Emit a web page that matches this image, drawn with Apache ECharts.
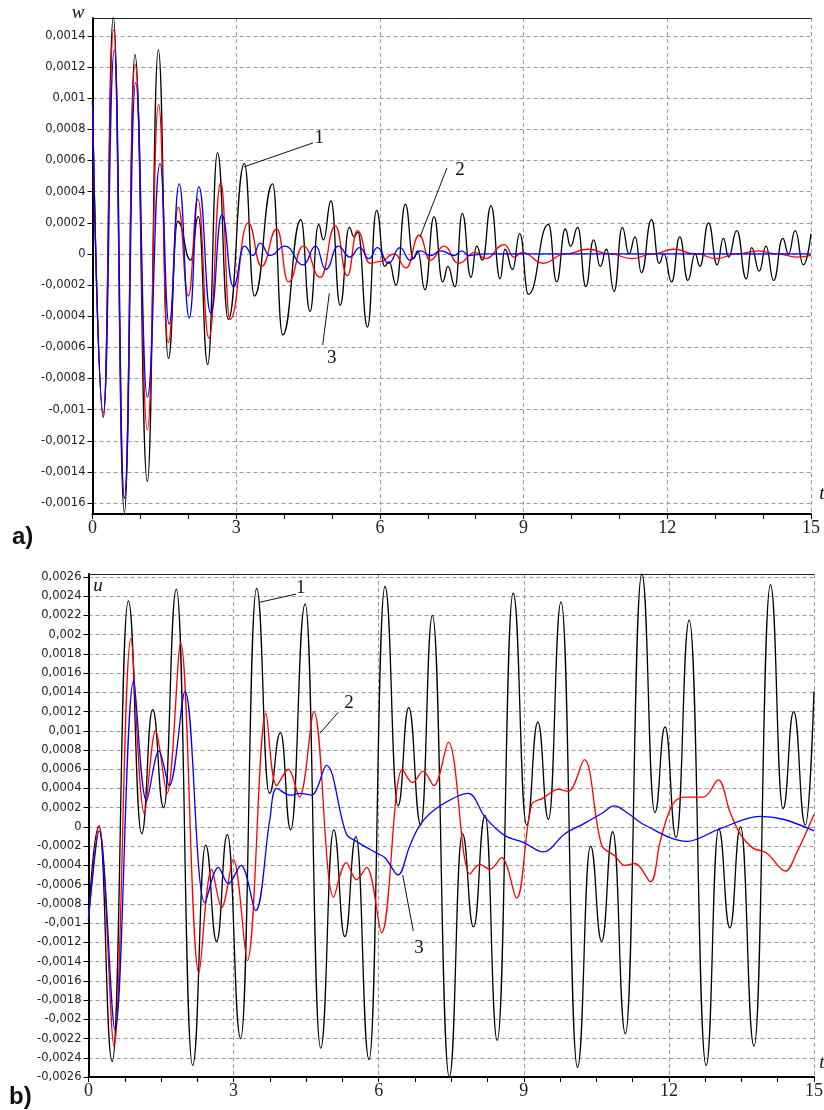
<!DOCTYPE html>
<html><head><meta charset="utf-8">
<script src="https://cdn.jsdelivr.net/npm/echarts@6/dist/echarts.min.js"></script>
<style>html,body{margin:0;padding:0;background:#fff}#c{width:824px;height:1110px}</style>
</head><body><div id="c"></div>
<script>
// ---------- tick labels ----------
const tTicks = [0, 3, 6, 9, 12, 15];
const wTicks = [-0.0016, -0.0014, -0.0012, -0.001, -0.0008, -0.0006, -0.0004, -0.0002, 0,
  0.0002, 0.0004, 0.0006, 0.0008, 0.001, 0.0012, 0.0014];
const uTicks = [-0.0026, -0.0024, -0.0022, -0.002, -0.0018, -0.0016, -0.0014, -0.0012, -0.001,
  -0.0008, -0.0006, -0.0004, -0.0002, 0, 0.0002, 0.0004, 0.0006, 0.0008, 0.001, 0.0012,
  0.0014, 0.0016, 0.0018, 0.002, 0.0022, 0.0024, 0.0026];

// ---------- panel a) : w(t) ----------
const w1 = [[0,0.00098],[0.226,-0.00105],[0.435,0.00152],[0.665,-0.00166],[0.887,0.00128],[1.145,-0.00146],
 [1.375,0.00131],[1.583,-0.00067],[1.78,0.00021],[2.05,-0.00004],[2.21,0.00024],[2.405,-0.00071],[2.61,0.00065],
 [2.835,-0.00042],[3.17,0.00058],[3.38,-0.00027],[3.76,0.00045],[3.97,-0.00052],[4.35,0.00022],[4.54,-0.00037],
 [4.72,0.00019],[4.82,0.00009],[4.98,0.00034],[5.17,-0.00033],[5.36,0.00017],[5.46,0.00011],[5.54,0.00014],
 [5.74,-0.00047],[5.93,0.00028],[6.1,-0.00008],[6.19,-0.00005],[6.34,-0.0002],[6.53,0.00032],[6.7,-0.00003],
 [6.79,0.00002],[6.94,-0.00023],[7.13,0.00024],[7.31,-0.00018],[7.42,-0.00008],[7.57,-0.00021],[7.72,0.00026],
 [7.9,-0.00015],[8.02,0.00005],[8.14,-0.00004],[8.32,0.00031],[8.51,-0.00016],[8.61,0.00003],[8.77,-0.0001],
 [8.92,0.00013],[9.1,-0.00026],[9.52,0.00019],[9.69,-0.00018],[9.87,0.00016],[9.98,0.00005],[10.13,0.00017],
 [10.3,-0.00021],[10.46,0.00009],[10.6,-0.00008],[10.73,0.00003],[10.89,-0.00024],[11.06,0.00017],[11.2,0],
 [11.33,0.00011],[11.46,-0.00012],[11.67,0.00022],[11.83,-0.00006],[11.93,0],[12.09,-0.00018],[12.26,0.00011],
 [12.43,-0.00017],[12.58,0],[12.68,-0.00008],[12.86,0.0002],[13.04,-0.00007],[13.17,0.0001],[13.28,-0.00002],
 [13.45,0.00015],[13.65,-0.00016],[13.76,0.00004],[13.92,-0.00011],[14.06,0.00005],[14.22,-0.00017],
 [14.41,0.0001],[14.53,0],[14.67,0.00015],[14.84,-0.00007],[15,0.00013]];
const w2 = [[0,0.00098],[0.226,-0.00104],[0.44,0.00144],[0.665,-0.00157],[0.89,0.00122],[1.145,-0.00113],
 [1.38,0.00096],[1.58,-0.00057],[1.79,0.0003],[2.0,-0.00027],[2.2,0.00035],[2.43,-0.00054],[2.68,0.00046],
 [2.87,-0.00042],[3.25,0.0002],[3.53,-0.00008],[3.85,0.00016],[4.09,-0.00018],[4.4,0.00005],[4.76,-0.00015],
 [5.07,0.00018],[5.32,-0.00014],[5.53,0.00015],[5.79,-0.00006],[6.0,-0.00005],[6.3,0],[6.55,-0.00009],
 [6.82,0.00012],[7.05,-0.00004],[7.34,0.00005],[7.64,-0.00006],[7.99,0.00001],[8.2,-0.00003],[8.6,0.00006],
 [8.8,-0.00002],[8.97,0.00001],[9.41,-0.00006],[9.87,0],[10.35,0.00003],[10.8,0],[11.26,-0.00003],[11.7,0],
 [12.13,0.00003],[12.6,0],[13.03,-0.00003],[13.45,0],[13.9,0.00002],[14.3,0],[14.7,-0.00002],[15,-0.00001]];
const w3 = [[0,0.00098],[0.226,-0.00102],[0.456,0.00131],[0.665,-0.00157],[0.9,0.0011],[1.145,-0.00092],
 [1.41,0.00058],[1.6,-0.00045],[1.81,0.00045],[2.02,-0.00041],[2.22,0.00043],[2.47,-0.00038],[2.7,0.00025],
 [2.94,-0.00021],[3.17,0.00005],[3.35,-0.00001],[3.5,0.00007],[3.7,-0.00001],[4.02,0.00005],[4.4,-0.00007],
 [4.66,0.00005],[4.87,-0.0001],[5.13,0.00005],[5.37,-0.00002],[5.58,0.00004],[5.77,-0.00003],[5.95,0.00004],
 [6.18,-0.00006],[6.42,0.00004],[6.63,-0.00004],[6.85,0.00002],[7.05,-0.00001],[7.27,0.00002],[7.55,-0.00001],
 [7.71,0.00002],[7.85,-0.00001],[8.2,0],[15,0]];

// ---------- panel b) : u(t) ----------
const u1 = [[0,-0.00096],[0.218,0.00001],[0.49,-0.00244],[0.823,0.00235],[1.1,-0.00007],[1.326,0.00122],
 [1.554,0.0002],[1.816,0.00247],[2.153,-0.00248],[2.422,-0.00019],[2.65,-0.00119],[2.87,-0.00008],
 [3.146,-0.0022],[3.476,0.00248],[3.74,0.00035],[3.97,0.00098],[4.18,-0.00003],[4.48,0.00232],[4.8,-0.0023],
 [5.07,-0.00003],[5.3,-0.00114],[5.53,-0.0001],[5.8,-0.00242],[6.13,0.0025],[6.4,0.00022],[6.62,0.00124],
 [6.87,0.00002],[7.11,0.0022],[7.46,-0.0026],[7.73,-0.00007],[7.96,-0.00104],[8.2,0.00012],[8.45,-0.00222],
 [8.78,0.00243],[9.06,0.00002],[9.29,0.00109],[9.51,0.00008],[9.77,0.00234],[10.11,-0.0025],[10.38,-0.0002],
 [10.61,-0.00119],[10.84,-0.00005],[11.1,-0.00215],[11.44,0.00263],[11.71,0.00015],[11.92,0.00104],
 [12.15,-0.00011],[12.42,0.00215],[12.77,-0.00248],[13.03,-0.00002],[13.26,-0.00105],[13.48,0],
 [13.76,-0.00228],[14.1,0.00252],[14.36,0.00019],[14.58,0.0012],[14.82,0.00002],[15,0.00141]];
const u2 = [[0,-0.00096],[0.218,0.00001],[0.527,-0.00228],[0.878,0.00196],[1.155,0.00014],[1.388,0.001],
 [1.623,0.00035],[1.905,0.00191],[2.284,-0.00152],[2.546,-0.00044],[2.753,-0.00084],[2.994,-0.00034],
 [3.284,-0.00139],[3.67,0.00118],[3.89,0.00043],[4.13,0.0006],[4.36,0.00031],[4.66,0.0012],[5.07,-0.00073],
 [5.33,-0.00037],[5.54,-0.00055],[5.75,-0.00042],[6.06,-0.0011],[6.49,0.0006],[6.7,0.00046],[6.92,0.00058],
 [7.14,0.00043],[7.44,0.00088],[7.89,-0.00049],[8.09,-0.00039],[8.3,-0.00044],[8.54,-0.00032],[8.85,-0.00074],
 [9.16,0.00023],[9.4,0.0003],[9.71,0.00039],[9.92,0.00037],[10.25,0.0007],[10.61,-0.00019],[10.88,-0.0003],
 [11.09,-0.0004],[11.3,-0.00038],[11.62,-0.00057],[11.82,-0.00015],[12.06,0.00022],[12.3,0.00031],
 [12.71,0.00031],[13.02,0.00049],[13.26,0.00016],[13.47,-0.00007],[13.74,-0.00022],[14.02,-0.00027],
 [14.41,-0.00046],[14.64,-0.00027],[15,0.00013]];
const u3 = [[0,-0.00096],[0.22,-0.00004],[0.548,-0.00211],[0.934,0.00152],[1.2,0.00027],[1.457,0.00079],
 [1.67,0.00043],[1.995,0.00141],[2.408,-0.00079],[2.684,-0.00042],[2.89,-0.00059],[3.153,-0.0004],
 [3.456,-0.00087],[3.75,0.00008],[3.89,0.0004],[4.17,0.00033],[4.37,0.00035],[4.61,0.00033],[4.92,0.00064],
 [5.33,-0.00007],[5.54,-0.00015],[5.95,-0.00027],[6.13,-0.00032],[6.4,-0.0005],[6.64,-0.0002],[6.88,0.00004],
 [7.27,0.00022],[7.85,0.00035],[8.2,0.0001],[8.61,-0.00009],[8.99,-0.00016],[9.4,-0.00026],[9.85,-0.00007],
 [10.26,0.00004],[10.61,0.00014],[10.87,0.00022],[11.16,0.00014],[11.5,0.00002],[12.37,-0.00015],
 [13.05,-0.00002],[13.88,0.00011],[14.36,0.00008],[15,-0.00004]];

// ---------- curve labels (data coordinates) ----------
const annW = [
  {label:'1', at:[4.735,0.000743], from:[3.163,0.000559], to:[4.603,0.000713]},
  {label:'2', at:[7.672,0.000539], from:[7.4,0.000552], to:[6.837,0.000109]},
  {label:'3', at:[4.994,-0.00067], from:[4.806,-0.000584], to:[4.944,-0.000252]}
];
const annU = [
  {label:'1', at:[4.387,0.002489], from:[3.546,0.002337], to:[4.29,0.002421]},
  {label:'2', at:[5.386,0.001287], from:[5.164,0.001192], to:[4.786,0.000974]},
  {label:'3', at:[6.833,-0.001257], from:[6.715,-0.001083], to:[6.496,-0.0005]}
];

const fmt = v => Math.abs(v) < 1e-12 ? '0' : String(parseFloat(v.toFixed(4))).replace('.', ',');
const dash = {color:'#9a9a9a', type:[4,3], width:1};
const yLab = {fontFamily:'DejaVu Sans', fontSize:11.5, color:'#222', margin:7, formatter: fmt};
const xLab = {fontFamily:'Liberation Serif', fontSize:18, color:'#222', margin:5};

function xAx(gi, minorSplit) {
  return {type:'value', gridIndex:gi, min:0, max:15, interval:3, position:'bottom',
    axisLine:{show:true, onZero:false, lineStyle:{color:'#000', width:2}},
    axisTick:{show:true, length:5, lineStyle:{color:'#000'}},
    minorTick:{show:true, splitNumber:minorSplit, length:5, lineStyle:{color:'#000'}},
    axisLabel:xLab, splitLine:{show:true, lineStyle:dash}};
}
function xTop(gi) {
  return {type:'value', gridIndex:gi, min:0, max:15, position:'top',
    axisLine:{show:true, onZero:false, lineStyle:{color:'#222', width:1}},
    axisTick:{show:false}, axisLabel:{show:false}, splitLine:{show:false}};
}
function yAx(gi, min, max, ticks) {
  return {type:'value', gridIndex:gi, min:min, max:max,
    axisLine:{show:true, onZero:false, lineStyle:{color:'#000', width:2}},
    axisTick:{show:true, length:5, customValues:ticks, lineStyle:{color:'#000'}},
    axisLabel:Object.assign({customValues:ticks}, yLab),
    splitLine:{show:true, lineStyle:dash}};
}
function ser(data, xi, yi, color, mono) {
  const s = {type:'line', xAxisIndex:xi, yAxisIndex:yi, data:data, showSymbol:false, symbol:'none',
    smooth: mono ? 0.5 : 0.35, silent:true, lineStyle:{color:color, width:1.3}, z:3};
  if (mono) s.smoothMonotone = 'x';
  return s;
}

const option = {
  animation:false,
  backgroundColor:'#fff',
  grid:[
    {left:92.5, top:18, width:718.5, height:496, containLabel:false, outerBoundsMode:'none'},
    {left:88.5, top:574, width:725.5, height:503, containLabel:false, outerBoundsMode:'none'}
  ],
  xAxis:[xAx(0,3), xAx(1,4), xTop(0), xTop(1)],
  yAxis:[yAx(0,-0.00167,0.001515,wTicks), yAx(1,-0.0026,0.00263,uTicks)],
  series:[
    ser(w1,0,0,'#000',true), ser(w2,0,0,'#ff0000',true), ser(w3,0,0,'#0000ff',true),
    ser(u1,1,1,'#000',true), ser(u2,1,1,'#ff0000',false), ser(u3,1,1,'#0000ff',false)
  ]
};

const chart = echarts.init(document.getElementById('c'), null, {renderer:'canvas'});
chart.setOption(option);

const g = [];
function txt(x, y, s, font, align) {
  g.push({type:'text', x:x, y:y, silent:true, z:10,
    style:{text:s, font:font, fill:'#111', align:align||'center', verticalAlign:'middle',
      textAlign:align||'center', textVerticalAlign:'middle'}});
}
function addAnn(list, gi) {
  list.forEach(a => {
    const p = chart.convertToPixel({xAxisIndex:gi, yAxisIndex:gi}, a.at);
    const f = chart.convertToPixel({xAxisIndex:gi, yAxisIndex:gi}, a.from);
    const t = chart.convertToPixel({xAxisIndex:gi, yAxisIndex:gi}, a.to);
    g.push({type:'line', silent:true, z:10, shape:{x1:f[0], y1:f[1], x2:t[0], y2:t[1]},
      style:{stroke:'#111', lineWidth:1}});
    txt(p[0], p[1], a.label, '19px "Liberation Serif"');
  });
}
addAnn(annW, 0);
addAnn(annU, 1);
txt(78, 13, 'w', 'italic 19px "Liberation Serif"');
txt(822, 494, 't', 'italic 19px "Liberation Serif"');
txt(98, 586, 'u', 'italic 19px "Liberation Serif"');
txt(822, 1063, 't', 'italic 19px "Liberation Serif"');
txt(12, 537, 'a)', 'bold 24px "Liberation Sans"', 'left');
txt(9, 1097, 'b)', 'bold 24px "Liberation Sans"', 'left');
chart.setOption({graphic:{elements:g}});
</script>
</body></html>
